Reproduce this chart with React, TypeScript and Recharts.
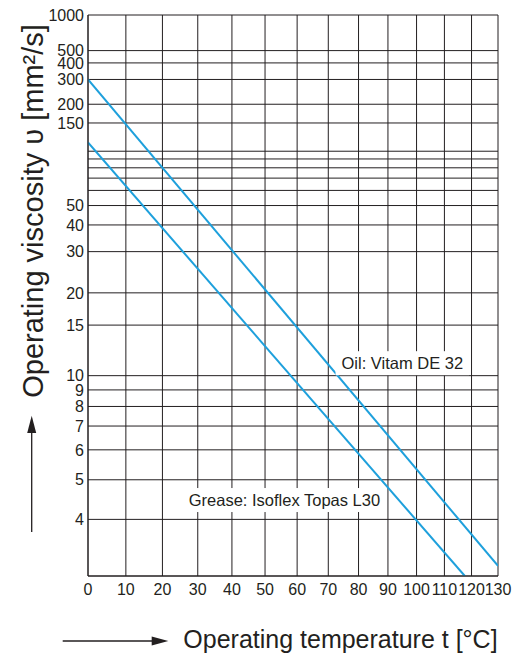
import { useLayoutEffect, useRef, useState } from 'react';
import { LineChart, Line, XAxis, YAxis, CartesianGrid, ReferenceDot } from 'recharts';

const FONT = '"Liberation Sans", Arial, Helvetica, sans-serif';
const INK = '#231f20';
const BLUE = '#1ea0dc';

// temperature axis [°C]
const tempTicks = [0, 10, 20, 30, 40, 50, 60, 70, 80, 90, 100, 110, 120, 130];
// viscosity grid lines [mm²/s]
const viscGrid = [4, 5, 6, 7, 8, 9, 10, 15, 20, 30, 40, 50, 60, 70, 80, 90, 100, 150, 200, 300, 400, 500, 1000];
const viscLabelled = [4, 5, 6, 7, 8, 9, 10, 15, 20, 30, 40, 50, 150, 200, 300, 400, 500, 1000];
const viscMin = 3;
const viscMax = 1000;

// Oil: Vitam DE 32
const oilTemp = [0, 130];
const oilVisc = [300, 3.15];

// Grease: Isoflex Topas L30
const greaseTemp = [0, 117.5];
const greaseVisc = [113, 3];

// chart paper scales: log of absolute temperature, log-log of viscosity (Walther / ASTM style)
const tx = (t: number) => Math.log10(t + 273.15);
const vy = (n: number) => Math.log10(Math.log10(n + 0.7));
const txInv = (u: number) => Math.pow(10, u) - 273.15;
const vyInv = (v: number) => Math.pow(10, Math.pow(10, v)) - 0.7;

const oilData = oilTemp.map((t, i) => ({ x: tx(t), y: vy(oilVisc[i]) }));
const greaseData = greaseTemp.map((t, i) => ({ x: tx(t), y: vy(greaseVisc[i]) }));

const BoxLabel = ({ viewBox, text }: any) => {
  const ref = useRef<SVGTextElement>(null);
  const [w, setW] = useState(0);
  useLayoutEffect(() => {
    if (ref.current) setW(ref.current.getBBox().width);
  }, [text]);
  if (!viewBox) return null;
  const cx = viewBox.x + (viewBox.width || 0) / 2;
  const cy = viewBox.y + (viewBox.height || 0) / 2;
  return (
    <g>
      {w > 0 && <rect x={cx - w / 2 - 6} y={cy - 12} width={w + 12} height={24} fill="#fff" />}
      <text ref={ref} x={cx} y={cy + 6} textAnchor="middle" fontSize={16.5} fontFamily={FONT} fill={INK}>
        {text}
      </text>
    </g>
  );
};

export default function App() {
  const W = 513;
  const H = 648;
  return (
    <div style={{ position: 'relative', width: W, height: H, fontFamily: FONT }}>
      <LineChart width={W} height={H} margin={{ top: 7, right: 23, left: 10, bottom: 50 }}>
        <CartesianGrid stroke={INK} strokeWidth={1} />
        <XAxis
          type="number"
          dataKey="x"
          domain={[tx(0), tx(130)]}
          allowDataOverflow
          ticks={tempTicks.map(tx)}
          interval={0}
          tickFormatter={(u: number) => String(Math.round(txInv(u)))}
          tick={{ fontSize: 16, fill: INK, fontFamily: FONT }}
          tickLine={false}
          tickSize={0}
          tickMargin={8}
          axisLine={{ stroke: INK }}
          height={30}
        />
        <YAxis
          type="number"
          dataKey="y"
          domain={[vy(viscMin), vy(viscMax)]}
          allowDataOverflow
          ticks={viscGrid.map(vy)}
          interval={0}
          tickFormatter={(v: number) => {
            const n = Math.round(vyInv(v));
            return viscLabelled.includes(n) ? String(n) : '';
          }}
          tick={{ fontSize: 16, fill: INK, fontFamily: FONT }}
          tickLine={false}
          tickSize={0}
          tickMargin={4}
          axisLine={{ stroke: INK }}
          width={70}
        />
        <Line data={oilData} dataKey="y" stroke={BLUE} strokeWidth={2} dot={false} isAnimationActive={false} />
        <Line data={greaseData} dataKey="y" stroke={BLUE} strokeWidth={2} dot={false} isAnimationActive={false} />
        <ReferenceDot
          x={tx(95)}
          y={vy(11)}
          r={1}
          fill="none"
          stroke="none"
          ifOverflow="visible"
          label={<BoxLabel text="Oil: Vitam DE 32" />}
        />
        <ReferenceDot
          x={tx(56)}
          y={vy(4.45)}
          r={1}
          fill="none"
          stroke="none"
          ifOverflow="visible"
          label={<BoxLabel text="Grease: Isoflex Topas L30" />}
        />
      </LineChart>
      <svg width={W} height={H} style={{ position: 'absolute', left: 0, top: 0, pointerEvents: 'none' }}>
        <text
          transform="translate(34.5, 203) rotate(-90)"
          textAnchor="middle"
          fontSize={29}
          fontFamily={FONT}
          fill={INK}
        >
          Operating viscosity υ [mm²/s]
        </text>
        <line x1={23.7} y1={424} x2={23.7} y2={524} stroke={INK} strokeWidth={1.3} />
        <polygon points="23.7,407.7 19.2,425 28.2,425" fill={INK} />
        <line x1={54.7} y1={633} x2={145} y2={633} stroke={INK} strokeWidth={1.3} />
        <polygon points="160.3,633 143.7,628.5 143.7,637.5" fill={INK} />
        <text x={175.3} y={640} fontSize={25} fontFamily={FONT} fill={INK}>
          Operating temperature t [°C]
        </text>
      </svg>
    </div>
  );
}
